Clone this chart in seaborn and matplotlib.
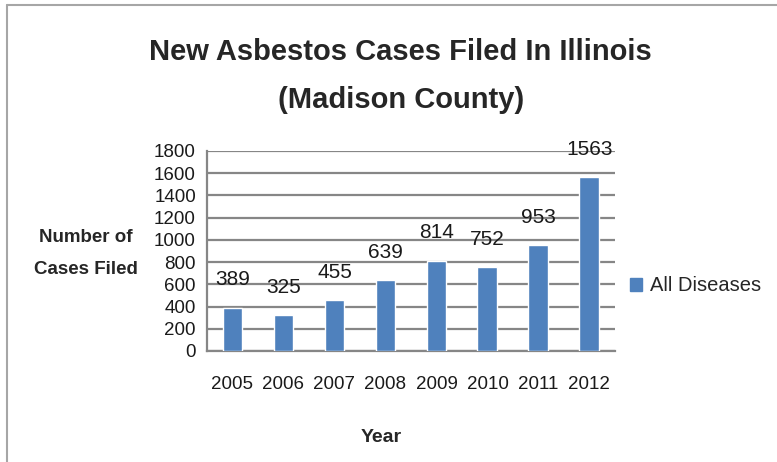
import matplotlib
matplotlib.use("Agg")
import matplotlib.pyplot as plt
import matplotlib.lines as mlines
import matplotlib.patches as mpatches
import seaborn as sns
import pandas as pd

# dati
anni = ['2005', '2006', '2007', '2008', '2009', '2010', '2011', '2012']
casi = [389, 325, 455, 639, 814, 752, 953, 1563]
serie = 'All Diseases'

df = pd.DataFrame({'Year': anni, 'Cases': casi})

sns.set_theme(style='white')
plt.rcParams['font.family'] = ['Liberation Sans', 'DejaVu Sans']

blu = '#4F81BD'
grigio = '#868686'

fig = plt.figure(figsize=(7.77, 4.62), dpi=100)
ax = fig.add_axes([0.2664, 0.2403, 0.525, 0.4329])

sns.barplot(data=df, x='Year', y='Cases', color=blu, saturation=1,
            width=0.39, ax=ax, zorder=3)

ax.set_xlim(-0.5, 7.5)
ax.set_ylim(0, 1800)
ax.set_yticks(range(0, 1801, 200))
ax.yaxis.grid(True, color=grigio, linewidth=1.6, zorder=0)
ax.set_axisbelow(True)

# tick tra le categorie come in Excel
ax.set_xticks([i + 0.5 for i in range(-1, 8)], minor=True)
ax.tick_params(axis='x', which='major', length=0, labelsize=13.5, pad=18, colors='#1a1a1a')
ax.tick_params(axis='x', which='minor', length=7, width=1.6, color=grigio, direction='out')
ax.tick_params(axis='y', which='major', length=6, width=1.6, color=grigio, direction='out',
               labelsize=13.5, pad=2, labelcolor='#1a1a1a')
for s in ['top', 'right']:
    ax.spines[s].set_visible(False)
for s in ['left', 'bottom']:
    ax.spines[s].set_color(grigio)
    ax.spines[s].set_linewidth(1.6)
ax.set_xlabel('')
ax.set_ylabel('')

# etichette dei valori
for i, v in enumerate(casi):
    ax.annotate(str(v), (i, v), xytext=(0, 20), textcoords='offset points',
                ha='center', va='center', fontsize=15, color='#1a1a1a', zorder=5)

# titolo
fig.text(0.515, 0.888, 'New Asbestos Cases Filed In Illinois', ha='center', va='center',
         fontsize=21, fontweight='bold')
fig.text(0.516, 0.784, '(Madison County)', ha='center', va='center',
         fontsize=21, fontweight='bold')

# etichette assi
fig.text(0.111, 0.485, 'Number of', ha='center', va='center', fontsize=13.5,
         fontweight='bold')
fig.text(0.111, 0.416, 'Cases Filed', ha='center', va='center', fontsize=13.5,
         fontweight='bold')
fig.text(0.49, 0.054, 'Year', ha='center', va='center', fontsize=14,
         fontweight='bold')

# legenda
quadrato = mpatches.Patch(color=blu, label=serie)
fig.legend(handles=[quadrato], loc='center left', bbox_to_anchor=(0.811, 0.381),
           frameon=False, handlelength=0.6, handleheight=0.6, borderpad=0,
           borderaxespad=0, handletextpad=0.4, prop={'size': 14.5})

# cornice (solo sinistra e sopra visibili)
fig.add_artist(mlines.Line2D([0.009, 0.009], [0.0, 0.989], color='#a6a6a6', linewidth=1.5))
fig.add_artist(mlines.Line2D([0.009, 1.0], [0.989, 0.989], color='#a6a6a6', linewidth=1.5))

fig.savefig('out.png', dpi=100)
